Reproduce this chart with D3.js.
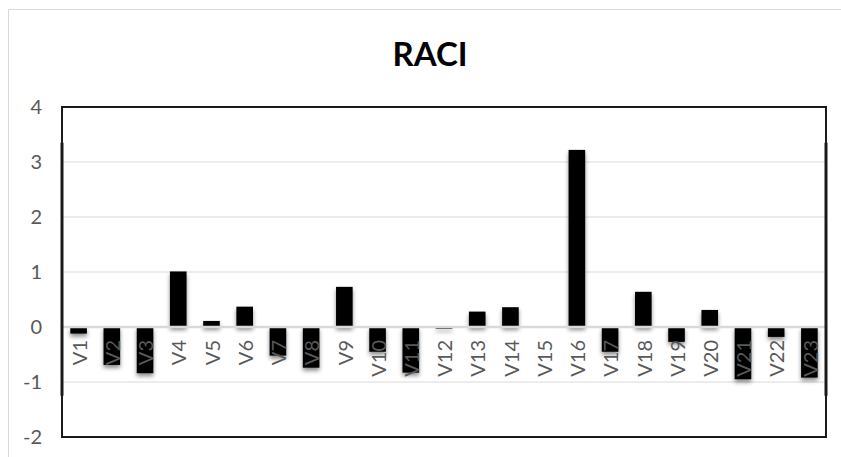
<!DOCTYPE html>
<html>
<head>
<meta charset="utf-8">
<script src="https://cdn.jsdelivr.net/npm/d3@7"></script>
<style>
  html, body { margin: 0; padding: 0; background: #ffffff; }
  svg { display: block; }
</style>
</head>
<body>
<svg id="chart" width="841" height="457"></svg>
<script>
// RACI values per variable
const categories = ["V1","V2","V3","V4","V5","V6","V7","V8","V9","V10","V11","V12",
                    "V13","V14","V15","V16","V17","V18","V19","V20","V21","V22","V23"];
const raci = [-0.12, -0.69, -0.84, 1.01, 0.11, 0.37, -0.52, -0.74, 0.73, -0.45, -0.83, -0.03,
              0.28, 0.36, 0.0, 3.22, -0.45, 0.64, -0.27, 0.31, -0.95, -0.18, -0.92];
const yTicks = [-2, -1, 0, 1, 2, 3, 4];
const title = "RACI";

const svg = d3.select("#chart");
const W = 841, H = 457;
const plot = { left: 62, right: 826, top: 107, bottom: 437 };
const font = "Lato, 'Open Sans', 'Liberation Sans', sans-serif";

// soft drop shadow under the bars
const defs = svg.append("defs");
const shadow = defs.append("filter").attr("id", "barShadow")
  .attr("x", "-50%").attr("y", "-50%").attr("width", "200%").attr("height", "200%");
shadow.append("feDropShadow").attr("dx", 0).attr("dy", 3)
  .attr("stdDeviation", 2.2).attr("flood-color", "#000").attr("flood-opacity", 0.45);

// chart-area outline (top and left edges)
svg.append("line").attr("x1", 8.5).attr("x2", W).attr("y1", 9.5).attr("y2", 9.5)
  .attr("stroke", "#d9d9d9").attr("stroke-width", 1);
svg.append("line").attr("x1", 8.5).attr("x2", 8.5).attr("y1", 9.5).attr("y2", H)
  .attr("stroke", "#d9d9d9").attr("stroke-width", 1);

// title
svg.append("text").attr("x", 430).attr("y", 66)
  .attr("text-anchor", "middle").attr("font-family", font)
  .attr("font-weight", 700).attr("font-size", 33).attr("fill", "#000")
  .text(title);

const x = d3.scaleBand().domain(categories)
  .range([plot.left, plot.right]).paddingInner(0.5).paddingOuter(0.25);
const y = d3.scaleLinear().domain([-2, 4]).range([plot.bottom, plot.top]);

// horizontal gridlines
svg.append("g").selectAll("line").data(yTicks.filter(t => t !== 0 && t !== -2 && t !== 4))
  .join("line")
  .attr("x1", plot.left).attr("x2", plot.right)
  .attr("y1", d => y(d)).attr("y2", d => y(d))
  .attr("stroke", "#d9d9d9").attr("stroke-width", 1.2);

// value axis labels (plain hyphen for negatives)
const yAxis = d3.axisLeft(y).tickValues(yTicks).tickSize(0).tickPadding(20)
  .tickFormat(d => String(d));
const gy = svg.append("g").attr("transform", `translate(${plot.left},0)`).call(yAxis);
gy.select(".domain").remove();
gy.selectAll("text").attr("font-family", font).attr("font-size", 20)
  .attr("fill", "#595959").attr("dy", "0.34em");

// bars
svg.append("g").attr("filter", "url(#barShadow)")
  .selectAll("rect").data(categories.map((c, i) => ({ c, v: raci[i] })))
  .join("rect")
  .attr("x", d => x(d.c))
  .attr("width", x.bandwidth())
  .attr("y", d => Math.min(y(d.v), y(0)))
  .attr("height", d => Math.abs(y(d.v) - y(0)))
  .attr("fill", "#000");

// zero line
svg.append("line").attr("x1", plot.left).attr("x2", plot.right)
  .attr("y1", y(0)).attr("y2", y(0))
  .attr("stroke", "#d9d9d9").attr("stroke-width", 2.5);

// category labels, rotated, just below the zero line
const xAxis = d3.axisBottom(x).tickSize(0).tickPadding(0);
const gx = svg.append("g").attr("transform", `translate(0,${y(0)})`).call(xAxis);
gx.select(".domain").remove();
gx.selectAll("text")
  .attr("font-family", font).attr("font-size", 20).attr("fill", "#595959")
  .attr("text-anchor", "end")
  .attr("transform", "translate(1,13) rotate(-90)")
  .attr("x", 0).attr("y", 0).attr("dy", "0.36em");

// plot frame
svg.append("rect").attr("x", plot.left).attr("y", plot.top)
  .attr("width", plot.right - plot.left).attr("height", plot.bottom - plot.top)
  .attr("fill", "none").attr("stroke", "#1a1a1a").attr("stroke-width", 2);
// heavier rules on the frame's sides
[plot.left, plot.right].forEach(px => {
  svg.append("line").attr("x1", px).attr("x2", px)
    .attr("y1", y(3.35)).attr("y2", y(-1.25))
    .attr("stroke", "#1a1a1a").attr("stroke-width", 3);
});
</script>
</body>
</html>
